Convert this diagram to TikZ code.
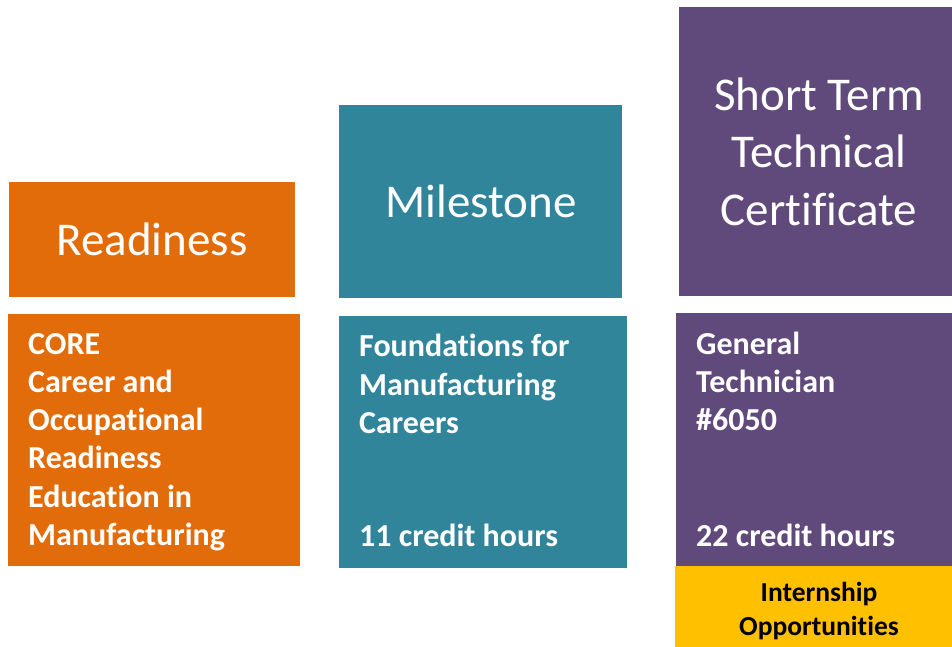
\documentclass[tikz,border=0pt]{standalone}
\usepackage{fontspec}
\setmainfont{Carlito}[Ligatures=NoCommon]
\usetikzlibrary{fit}
\definecolor{corange}{RGB}{227,108,10}
\definecolor{cteal}{RGB}{49,133,155}
\definecolor{cpurple}{RGB}{96,74,123}
\definecolor{cyellow}{RGB}{255,192,0}
\begin{document}
\begin{tikzpicture}[x=1pt,y=-1pt,
  blk/.style={fill=#1, draw=none, inner sep=0pt, outer sep=0pt},
  head/.style={text=white, font=\fontsize{47}{57.5}\selectfont, align=center, anchor=base, inner sep=0pt},
  body/.style={text=white, font=\fontsize{32}{38.3}\selectfont\bfseries, align=left, anchor=base west, inner sep=0pt},
  intern/.style={text=black, font=\fontsize{27.5}{33.3}\selectfont\bfseries, align=center, anchor=base, inner sep=0pt}]
\useasboundingbox (0,0) rectangle (952,647);
% header blocks
\node[blk=corange, fit={(9,182) (295,296.5)}] (rhead) {};
\node[blk=cteal, fit={(339.3,105) (622.3,298.3)}] (mhead) {};
\node[blk=cpurple, fit={(679,7.3) (952,295.7)}] (shead) {};
% lower blocks
\node[blk=corange, fit={(8,314) (300,565.7)}] (rbody) {};
\node[blk=cteal, fit={(339,316) (626.7,567.7)}] (mbody) {};
\node[blk=cpurple, fit={(676,313.3) (952,566)}] (sbody) {};
\node[blk=cyellow, fit={(675,566) (952,647)}] (ybox) {};
% header texts (base = baseline of last line)
\node[head] (rheadtext) at (152,255) {Readiness};
\node[head] (mheadtext) at (481,217.7) {Milestone};
\node[head] (sheadtext) at (819,225) {Short Term\\Technical\\Certificate};
% body texts (base = baseline of last line)
\node[body] (rtext) at (28,545.5) {CORE\\Career and\\Occupational\\Readiness\\Education in\\Manufacturing};
\node[body] (mtext) at (359,433.3) {Foundations for\\Manufacturing\\Careers};
\node[body] (mcred) at (359,546.7) {11 credit hours};
\node[body] (stext) at (696,430.6) {General\\Technician\\\#6050};
\node[body] (scred) at (696,546) {22 credit hours};
\node[intern] (ytext) at (819,635) {Internship\\Opportunities};
\end{tikzpicture}
\end{document}
